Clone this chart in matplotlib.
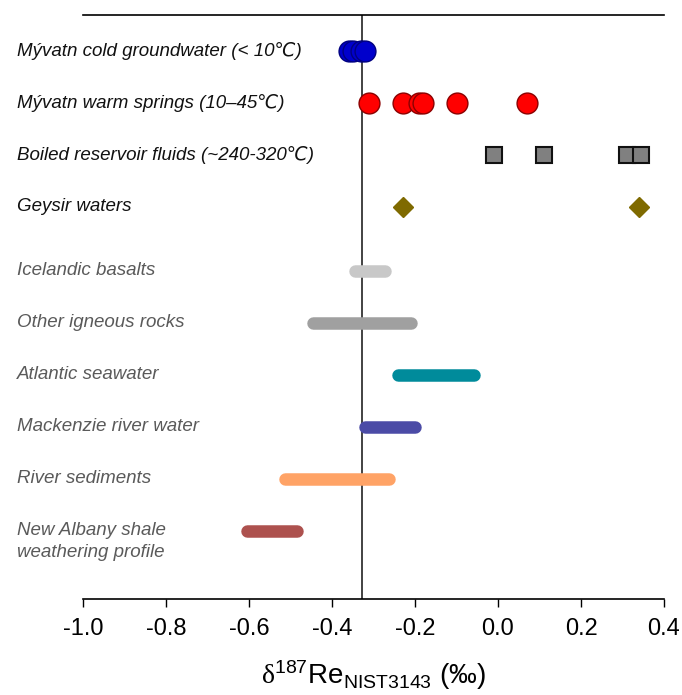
import matplotlib
matplotlib.use("Agg")
import matplotlib.pyplot as plt
import numpy as np

plt.rcParams['font.family'] = ['Liberation Sans', 'DejaVu Sans']
plt.rcParams['mathtext.fontset'] = 'custom'
plt.rcParams['mathtext.rm'] = 'Liberation Serif'
plt.rcParams['mathtext.sf'] = 'Liberation Sans'
plt.rcParams['mathtext.it'] = 'Liberation Sans:italic'

# point data (delta 187Re, permil)
cold_groundwater = [-0.36, -0.35, -0.33, -0.32]
warm_springs = [-0.31, -0.23, -0.19, -0.18, -0.10, 0.07]
boiled_fluids = [-0.01, 0.11, 0.31, 0.345]
geysir = [-0.23, 0.34]

point_labels = ["Mývatn cold groundwater (< 10℃)",
                "Mývatn warm springs (10–45℃)",
                "Boiled reservoir fluids (~240-320℃)",
                "Geysir waters"]

# range data (min, max)
range_labels = ["Icelandic basalts", "Other igneous rocks", "Atlantic seawater",
                "Mackenzie river water", "River sediments",
                "New Albany shale\nweathering profile"]
range_lo = [-0.345, -0.446, -0.240, -0.320, -0.514, -0.606]
range_hi = [-0.272, -0.210, -0.058, -0.199, -0.262, -0.484]
range_colors = ["#c8c8c8", "#a0a0a0", "#008b9b", "#4b4ba6", "#ffa366", "#ad514e"]

ref_line = -0.328

xticks = [-1.0, -0.8, -0.6, -0.4, -0.2, 0.0, 0.2, 0.4]

fig = plt.figure(figsize=(6.82, 6.95), dpi=100)
ax = fig.add_axes([83/682, 1-599/695, 581/682, 584/695])

ypts = [0, 1, 2, 3]
yrng = [4.23, 5.23, 6.23, 7.23, 8.23, 9.23]

ax.axvline(ref_line, color="#222222", lw=1.2, zorder=1)

styles = [
    dict(marker='o', ms=15, mfc='#0000cc', mec='#000080', mew=1.0),
    dict(marker='o', ms=15, mfc='#ff0000', mec='#8b0000', mew=1.0),
    dict(marker='s', ms=11, mfc='#808080', mec='#111111', mew=1.5),
    dict(marker='D', ms=10, mfc='#7f6a00', mec='#7f6a00', mew=1.0),
]
for y, vals, st in zip(ypts, [cold_groundwater, warm_springs, boiled_fluids, geysir], styles):
    for v in vals:
        ax.plot([v], [y], ls='none', zorder=3, **st)

for y, lo, hi, c in zip(yrng, range_lo, range_hi, range_colors):
    ax.plot([lo, hi], [y, y], color=c, lw=9, solid_capstyle='round', zorder=2)

xtext = -1.159
for y, lab in zip(ypts, point_labels):
    ax.text(xtext, y, lab, style='italic', fontsize=13.5, color='#111111',
            ha='left', va='center', clip_on=False)
for y, lab in zip(yrng, range_labels):
    for k, line in enumerate(lab.split('\n')):
        ax.text(xtext, y + 0.42 * k, line, style='italic', fontsize=13.5,
                color='#5a5a5a', ha='left', va='center', clip_on=False)

ax.set_xlim(-1.0, 0.4)
ax.set_ylim(10.54, -0.69)
ax.set_xticks(xticks)
ax.set_xticklabels(["%.1f" % t for t in xticks], fontsize=17)
ax.set_yticks([])
ax.tick_params(axis='x', direction='out', length=6, width=1, pad=8)
for s in ['left', 'right']:
    ax.spines[s].set_visible(False)
ax.spines['top'].set_linewidth(1.2)
ax.spines['bottom'].set_linewidth(1.2)
ax.set_xlabel(r"$\mathrm{\delta}^{\mathsf{187}}\mathsf{Re}_{\mathsf{NIST3143}}$ (‰)",
              fontsize=20, labelpad=13)

fig.savefig("out.png", dpi=100)
